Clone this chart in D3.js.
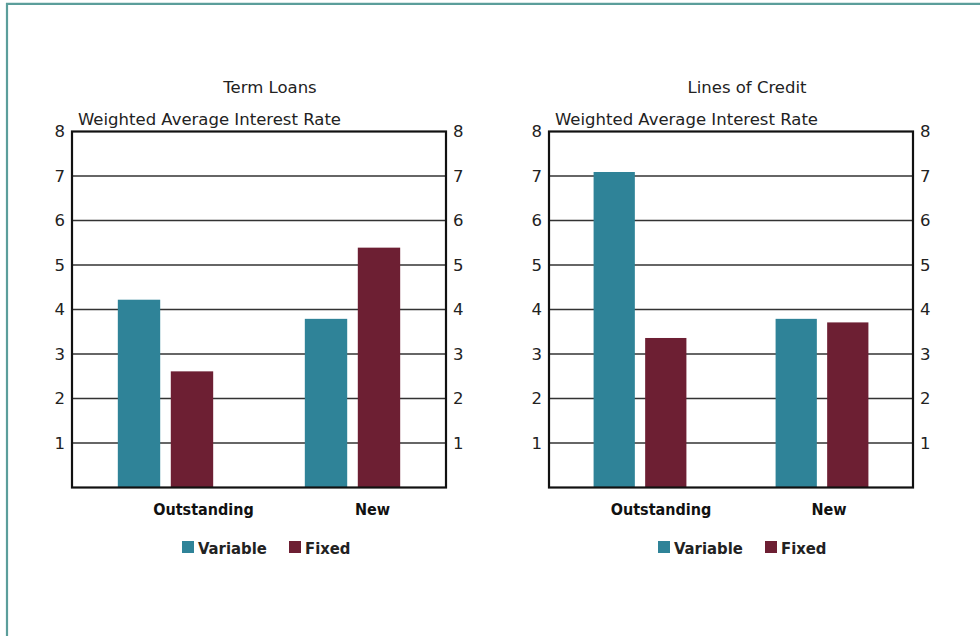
<!DOCTYPE html>
<html>
<head>
<meta charset="utf-8">
<script src="https://cdn.jsdelivr.net/npm/d3@7"></script>
<style>
  html, body { margin: 0; padding: 0; background: #fff; }
  svg { display: block; }
</style>
</head>
<body>
<svg id="chart" width="980" height="636"></svg>
<script>
// ---- data ----
const categories = ["Outstanding", "New"];
const seriesNames = ["Variable", "Fixed"];
const termVariable = [4.22, 3.79];
const termFixed = [2.61, 5.39];
const creditVariable = [7.09, 3.79];
const creditFixed = [3.36, 3.71];
const yTickValues = [1, 2, 3, 4, 5, 6, 7, 8];
const chartTitles = ["Term Loans", "Lines of Credit"];
const yAxisTitle = "Weighted Average Interest Rate";

// ---- styles ----
const colors = { Variable: "#2f8398", Fixed: "#6d1f33" };
const FONT = "'DejaVu Sans', Verdana, sans-serif";
const FONT_C = "'DejaVu Sans Condensed', 'DejaVu Sans', sans-serif";

const svg = d3.select("#chart");

// outer frame (top and left teal rule)
svg.append("line").attr("x1", 6).attr("x2", 980).attr("y1", 3.8).attr("y2", 3.8)
  .attr("stroke", "#5b9e9b").attr("stroke-width", 2.2);
svg.append("line").attr("x1", 7).attr("x2", 7).attr("y1", 3).attr("y2", 636)
  .attr("stroke", "#5b9e9b").attr("stroke-width", 2.2);

const panels = [
  { title: chartTitles[0], left: 72, right: 446, titleX: 270, labelShift: [38, 20],
    variable: termVariable, fixed: termFixed, legendX: 182 },
  { title: chartTitles[1], left: 549, right: 913, titleX: 747, labelShift: [21, 7],
    variable: creditVariable, fixed: creditFixed, legendX: 658 }
];

const plotTop = 131.5, plotBottom = 487.5;
const y = d3.scaleLinear().domain([0, 8]).range([plotBottom, plotTop]);

panels.forEach(p => {
  const g = svg.append("g");
  const x0 = d3.scaleBand().domain(categories).range([p.left, p.right]).padding(0);
  const groupW = x0.bandwidth() * 0.51;

  // title
  g.append("text").attr("x", p.titleX).attr("y", 93).attr("text-anchor", "middle")
    .attr("font-family", FONT).attr("font-size", 16.5).attr("fill", "#222").text(p.title);
  // y axis title
  g.append("text").attr("x", p.left + 6).attr("y", 125)
    .attr("font-family", FONT).attr("font-size", 16.5).attr("fill", "#222").text(yAxisTitle);

  // gridlines
  g.append("g").selectAll("line").data(yTickValues.filter(v => v < 8)).join("line")
    .attr("x1", p.left).attr("x2", p.right)
    .attr("y1", d => y(d)).attr("y2", d => y(d))
    .attr("stroke", "#333").attr("stroke-width", 1.6);

  // bars
  const rows = categories.map((c, i) => ({ cat: c, vals: [p.variable[i], p.fixed[i]] }));
  rows.forEach(r => {
    const c = x0(r.cat) + x0.bandwidth() / 2;
    const x1 = d3.scaleBand().domain(seriesNames).range([c - groupW / 2, c + groupW / 2]).paddingInner(0.2);
    g.append("g").selectAll("rect").data(seriesNames.map((s, j) => ({ s, v: r.vals[j] }))).join("rect")
      .attr("x", d => x1(d.s)).attr("width", x1.bandwidth())
      .attr("y", d => y(d.v)).attr("height", d => y(0) - y(d.v))
      .attr("fill", d => colors[d.s]);
  });

  // frame
  g.append("rect").attr("x", p.left).attr("y", plotTop).attr("width", p.right - p.left)
    .attr("height", plotBottom - plotTop).attr("fill", "none").attr("stroke", "#111").attr("stroke-width", 2.2);

  // y axes (left & right)
  const axL = g.append("g").attr("transform", `translate(${p.left},0)`)
    .call(d3.axisLeft(y).tickValues(yTickValues).tickSize(0).tickPadding(7).tickFormat(d3.format("d")));
  const axR = g.append("g").attr("transform", `translate(${p.right},0)`)
    .call(d3.axisRight(y).tickValues(yTickValues).tickSize(0).tickPadding(7).tickFormat(d3.format("d")));
  [axL, axR].forEach(ax => {
    ax.select(".domain").remove();
    ax.selectAll("text").attr("font-family", FONT).attr("font-size", 16.5).attr("fill", "#222");
  });

  // category labels
  g.append("g").selectAll("text").data(categories).join("text")
    .attr("x", (d, i) => x0(d) + x0.bandwidth() / 2 + p.labelShift[i])
    .attr("y", 515).attr("text-anchor", "middle")
    .attr("font-family", FONT_C).attr("font-size", 16).attr("font-weight", "bold").attr("fill", "#111")
    .text(d => d);

  // legend
  const lg = g.append("g").attr("transform", `translate(${p.legendX},0)`);
  const offs = [0, 107];
  seriesNames.forEach((s, i) => {
    lg.append("rect").attr("x", offs[i]).attr("y", 541).attr("width", 12).attr("height", 12)
      .attr("fill", colors[s]);
    lg.append("text").attr("x", offs[i] + 16).attr("y", 553.5)
      .attr("font-family", FONT_C).attr("font-size", 16.5).attr("font-weight", "bold").attr("fill", "#222")
      .text(s);
  });
});
</script>
</body>
</html>
